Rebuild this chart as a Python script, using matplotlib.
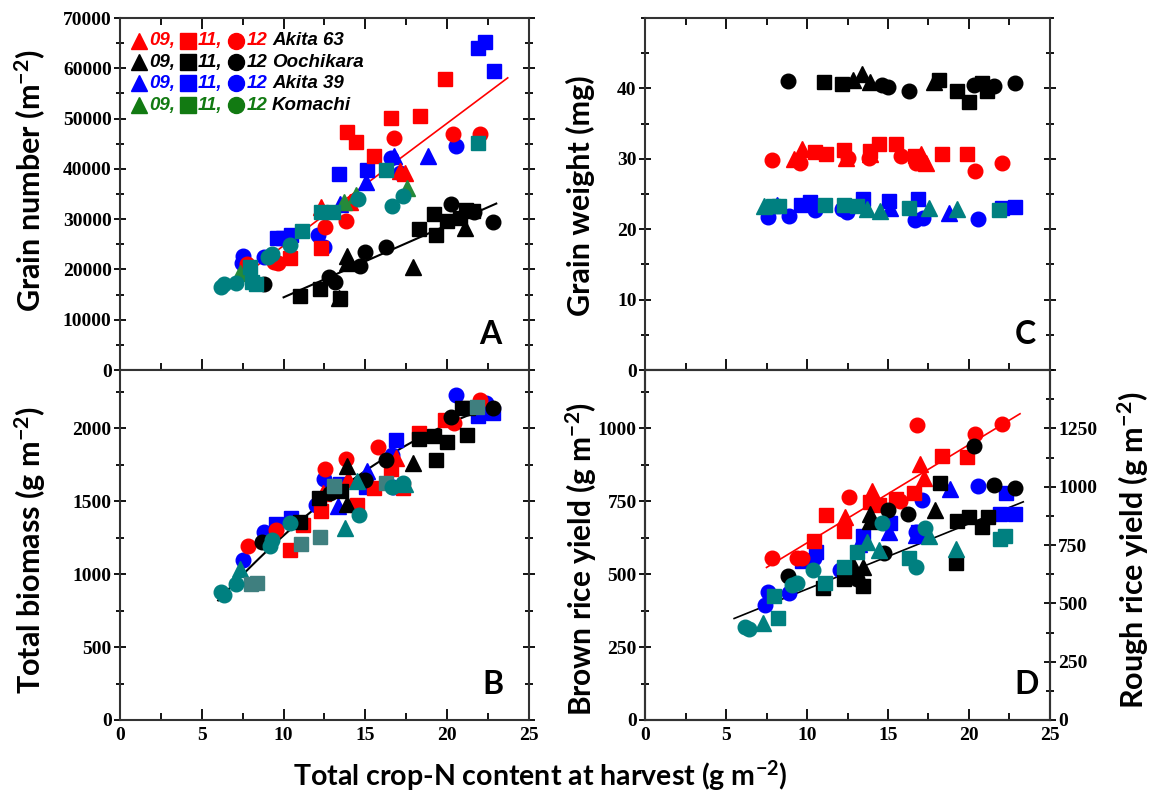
import matplotlib
matplotlib.use('Agg')
import matplotlib.pyplot as plt
from matplotlib.ticker import MultipleLocator, FixedLocator
import numpy as np

# ---------------- Panel A: grain number (m-2) ----------------
A_ak63_09 = [(12.3, 32500), (14.05, 33500), (17.1, 39600), (17.4, 39200)]
A_ak63_11 = [(13.88, 47400), (14.45, 45300), (15.51, 42500), (16.59, 50200), (18.32, 50500),
             (19.85, 57800), (12.28, 24200), (10.4, 22300)]
A_ak63_12 = [(16.75, 46200), (13.84, 29600), (12.56, 28400), (9.67, 21200), (9.4, 21400),
             (7.78, 21100), (20.36, 47000), (22.03, 47000)]
A_ooch_09 = [(13.88, 22700), (13.88, 21200), (17.92, 20500), (21.07, 28200), (13.4, 14300)]
A_ooch_11 = [(10.99, 14800), (12.21, 16200), (13.44, 14300), (18.26, 28000), (19.18, 31000),
             (19.3, 26800), (19.99, 29700), (20.81, 30200), (21.17, 31900), (21.58, 31700)]
A_ooch_12 = [(8.82, 17100), (12.79, 18400), (13.13, 17600), (14.7, 20700), (14.96, 23500),
             (16.23, 24500), (20.26, 33100), (21.62, 31500), (22.8, 29400)]
A_ak39_09 = [(13.44, 33100), (15.02, 37400), (16.73, 42500), (18.83, 42600)]
A_ak39_11 = [(13.38, 39000), (15.07, 39800), (9.61, 26200), (9.98, 26300), (10.48, 26800),
             (21.89, 64000), (22.33, 65300), (22.84, 59500)]
A_ak39_12 = [(7.53, 22700), (7.43, 21200), (8.79, 22400), (12.11, 26800), (12.46, 24500),
             (16.59, 42100), (17.1, 39100), (20.56, 44600)]
A_koma_09 = [(7.33, 19200), (13.68, 33500), (14.41, 34800), (17.55, 36100)]
A_koma_11 = [(7.94, 20400), (8.08, 17600), (8.31, 17200), (11.1, 27600), (12.28, 31500),
             (13.03, 31400), (16.29, 39800), (21.89, 45200)]
A_koma_12 = [(6.17, 16600), (6.37, 17100), (7.08, 17400), (9.06, 22500), (9.32, 23000),
             (10.38, 24900), (14.56, 34100), (16.65, 32700), (17.3, 34700)]
A_fit_red_x, A_fit_red_y = [6.3, 23.7], [15700, 58100]
A_fit_black_x, A_fit_black_y = [10.0, 23.0], [14450, 33100]

# ---------------- Panel B: total biomass (g m-2) ----------------
B_ak63_09 = [(12.38, 1559), (13.95, 1650), (16.9, 1797)]
B_ak63_11 = [(10.42, 1167), (11.16, 1340), (12.28, 1435), (14.5, 1473), (15.51, 1593),
             (16.59, 1718), (17.3, 1593), (18.28, 1967), (19.85, 2058)]
B_ak63_12 = [(7.8, 1190), (9.51, 1303), (12.56, 1718), (13.84, 1791), (15.78, 1872),
             (20.4, 2035), (22.03, 2194)]
B_ooch_09 = [(13.88, 1741), (13.88, 1480), (17.92, 1759)]
B_ooch_11 = [(10.99, 1355), (12.17, 1525), (13.48, 1571), (18.26, 1927), (19.18, 1949),
             (19.99, 1904), (19.34, 1786), (21.21, 1956), (20.91, 2137), (21.27, 2137)]
B_ooch_12 = [(8.71, 1224), (12.83, 1559), (14.96, 1643), (16.29, 1786), (20.26, 2081),
             (22.8, 2142)]
B_ak39_09 = [(13.33, 1469), (15.07, 1707), (16.7, 1820)]
B_ak39_11 = [(9.53, 1344), (10.48, 1385), (13.44, 1616), (15.02, 1600), (16.9, 1922),
             (21.89, 2085), (22.8, 2108)]
B_ak39_12 = [(7.49, 1099), (8.82, 1287), (12.46, 1655), (12.01, 1473), (16.65, 1820),
             (16.69, 1600), (20.56, 2228), (22.39, 2171)]
B_koma_09 = [(7.33, 1038), (13.74, 1315), (14.5, 1639), (17.41, 1616)]
B_koma_11 = [(8.0, 936), (8.35, 941), (11.05, 1208), (12.21, 1253), (13.09, 1605),
             (16.29, 1627), (21.84, 2144)]
B_koma_12 = [(6.17, 879), (6.37, 857), (7.08, 936), (9.16, 1190), (9.32, 1231), (10.38, 1351),
             (14.6, 1405), (16.65, 1600), (17.3, 1627)]
B_fit_coef = (2.5, 151.25, -2.5)   # a + b*N + c*N^2
B_fit_range = (6.0, 22.5)

# ---------------- Panel C: grain weight (mg) ----------------
C_ak63_09 = [(9.67, 31.36), (9.21, 29.92), (12.42, 30.07), (13.89, 30.64), (17.05, 30.64),
             (17.35, 29.45)]
C_ak63_11 = [(10.47, 31.02), (11.18, 30.64), (12.26, 31.21), (13.89, 31.12), (14.46, 32.07),
             (15.52, 32.07), (16.64, 30.4), (18.33, 30.64), (19.86, 30.64)]
C_ak63_12 = [(7.84, 29.78), (9.55, 29.45), (12.5, 30.16), (13.83, 30.16), (15.78, 30.4),
             (16.74, 29.45), (20.37, 28.25), (22.04, 29.35)]
C_ooch_09 = [(12.87, 41.25), (13.38, 42.11), (13.89, 40.92), (17.86, 40.92)]
C_ooch_11 = [(11.04, 40.92), (12.16, 40.58), (18.17, 41.25), (19.29, 39.58), (20.0, 38.05),
             (20.81, 40.77), (21.12, 39.63)]
C_ooch_12 = [(8.84, 41.06), (14.66, 40.54), (15.01, 40.2), (16.29, 39.63), (20.3, 40.44),
             (21.57, 40.3), (22.81, 40.82)]
C_ak39_09 = [(8.15, 23.47), (15.11, 22.99), (18.78, 22.28)]
C_ak39_11 = [(9.61, 23.47), (10.16, 23.85), (13.48, 24.33), (15.07, 24.04), (16.88, 24.33),
             (22.04, 22.99), (22.85, 23.09)]
C_ak39_12 = [(7.58, 21.8), (8.9, 21.94), (10.49, 22.75), (12.16, 22.85), (12.46, 22.51),
             (16.64, 21.32), (17.15, 21.56), (20.57, 21.46)]
C_koma_09 = [(7.33, 23.23), (13.69, 22.9), (14.5, 22.61), (17.56, 22.99), (19.23, 22.85)]
C_koma_11 = [(7.88, 23.23), (8.29, 23.23), (11.1, 23.47), (12.26, 23.47), (13.08, 23.23),
             (16.29, 22.99), (21.83, 22.75)]
C_koma_12 = []

# ---------------- Panel D: brown rice yield (g m-2) ----------------
D_ak63_09 = [(12.36, 696), (13.99, 785), (16.99, 879), (17.25, 831)]
D_ak63_11 = [(10.43, 614), (11.18, 704), (12.26, 648), (13.89, 748), (14.46, 736),
             (15.52, 759), (16.6, 780), (18.33, 904), (19.86, 902)]
D_ak63_12 = [(7.84, 557), (9.37, 556), (9.67, 554), (12.57, 765), (15.72, 751), (16.78, 1010),
             (20.37, 979), (22.04, 1016)]
D_ooch_09 = [(12.87, 531), (13.44, 525), (13.89, 705), (13.89, 683), (17.9, 719)]
D_ooch_11 = [(11.0, 451), (12.26, 485), (13.48, 459), (18.21, 813), (19.19, 539), (19.29, 683),
             (20.0, 696), (20.81, 662), (21.18, 696)]
D_ooch_12 = [(8.8, 494), (15.01, 719), (14.75, 573), (16.23, 705), (20.31, 938), (21.57, 805),
             (22.81, 796), (13.08, 485)]
D_ak39_09 = [(13.24, 605), (15.05, 645), (16.7, 634), (18.82, 793)]
D_ak39_11 = [(9.67, 545), (10.53, 577), (13.48, 630), (15.11, 674), (16.84, 645), (22.28, 779),
             (21.94, 706), (22.85, 706)]
D_ak39_12 = [(7.58, 440), (7.43, 394), (8.86, 437), (10.43, 554), (12.06, 514), (17.11, 753),
             (16.74, 645), (20.57, 803)]
D_koma_09 = [(7.27, 334), (13.69, 611), (14.46, 582), (17.56, 631), (19.19, 588)]
D_koma_11 = [(7.94, 425), (8.23, 350), (11.08, 471), (12.3, 525), (13.08, 577), (16.29, 554),
             (21.89, 619), (22.2, 631)]
D_koma_12 = [(6.15, 320), (6.42, 311), (9.1, 462), (9.37, 470), (10.39, 514), (14.6, 676),
             (16.7, 525), (17.31, 659)]
D_fit_red_x, D_fit_red_y = [7.5, 23.15], [523, 1050]
D_fit_black_x, D_fit_black_y = [5.5, 23.35], [348, 748]

# legend rows: cultivar name and colour
cultivars = ['Akita 63', 'Oochikara', 'Akita 39', 'Komachi']
legend_colors = ['#ff0000', '#000000', '#0000ff', '#127a12']

RED, BLACK, BLUE, TEAL = '#ff0000', '#000000', '#0000ff', '#008080'
MARKERS = {'09': '^', '11': 's', '12': 'o'}
SIZES = {'09': 11, '11': 9.5, '12': 10.5}

# tick labels: bold serif; axis titles: bold sans
SERIF = ['Liberation Serif', 'DejaVu Serif']
plt.rcParams['font.family'] = SERIF
plt.rcParams['font.weight'] = 'bold'
plt.rcParams['font.size'] = 14
plt.rcParams['mathtext.fontset'] = 'custom'
plt.rcParams['mathtext.rm'] = 'Lato:bold'
plt.rcParams['mathtext.bf'] = 'Lato:bold'
plt.rcParams['mathtext.it'] = 'Lato:bold:italic'
plt.rcParams['mathtext.default'] = 'rm'
LABEL_FONT = {'family': 'Lato', 'weight': 'bold', 'size': 22}


def draw_points(ax, series):
    for pts, color, year in series:
        if not pts:
            continue
        xs, ys = zip(*pts)
        ax.plot(xs, ys, linestyle='none', marker=MARKERS[year], ms=SIZES[year],
                color=color, mec=color, zorder=3)


def style_axis(ax, ymax, labelled, minor, xlabels, right=True, top=False):
    ax.set_xlim(0, 25)
    ax.set_ylim(0, ymax)
    ax.xaxis.set_major_locator(MultipleLocator(5))
    ax.xaxis.set_minor_locator(MultipleLocator(2.5))
    ax.yaxis.set_major_locator(FixedLocator(labelled))
    ax.yaxis.set_minor_locator(MultipleLocator(minor))
    ax.tick_params(axis='x', which='both', direction='in', top=top, labelbottom=xlabels, pad=5)
    ax.tick_params(axis='x', which='major', length=8, width=1.3)
    ax.tick_params(axis='x', which='minor', length=5, width=1.3)
    ax.tick_params(axis='y', which='both', direction='inout', right=right, pad=1.5)
    ax.tick_params(axis='y', which='major', length=9, width=1.3)
    ax.tick_params(axis='y', which='minor', length=6, width=1.3)
    ax.tick_params(axis='both', labelfontfamily='Liberation Serif')
    for s in ax.spines.values():
        s.set_linewidth(1.5)
        s.set_color('#333333')


def panel_letter(ax, letter, fx):
    ax.text(fx, 0.1, letter, transform=ax.transAxes, ha='center', va='center',
            family='Lato', weight='bold', size=23)


fig = plt.figure(figsize=(11.57, 7.94), dpi=100)
axA = fig.add_axes([0.1037, 0.534, 0.3535, 0.4433])
axB = fig.add_axes([0.1037, 0.0932, 0.3535, 0.4408])
axC = fig.add_axes([0.5575, 0.534, 0.350, 0.4433])
axD = fig.add_axes([0.5575, 0.0932, 0.350, 0.4408])

# Panel A
axA.plot(A_fit_red_x, A_fit_red_y, color=RED, lw=1.2, zorder=2)
axA.plot(A_fit_black_x, A_fit_black_y, color=BLACK, lw=1.5, zorder=2)
draw_points(axA, [(A_ak39_09, BLUE, '09'), (A_ak39_11, BLUE, '11'), (A_ak39_12, BLUE, '12'),
                  (A_ak63_09, RED, '09'), (A_ak63_11, RED, '11'), (A_ak63_12, RED, '12'),
                  (A_ooch_09, BLACK, '09'), (A_ooch_11, BLACK, '11'), (A_ooch_12, BLACK, '12'),
                  (A_koma_09, '#258a3a', '09'), (A_koma_11, TEAL, '11'), (A_koma_12, TEAL, '12')])
style_axis(axA, 70000, list(range(0, 70001, 10000)), 5000, False, top=True)
panel_letter(axA, 'A', 0.905)

# legend drawn as text rows inside panel A
row_y = [0.935, 0.875, 0.815, 0.752]
for name, col, yy in zip(cultivars, legend_colors, row_y):
    for mx, tx, year in [(0.046, 0.071, '09,'), (0.166, 0.191, '11,'), (0.284, 0.31, '12')]:
        axA.plot(mx, yy, marker=MARKERS[year[:2]], ms=11.5, color=col, transform=axA.transAxes,
                 clip_on=False, zorder=4)
        axA.text(tx, yy, year, transform=axA.transAxes, color=col, ha='left', va='center',
                 family='Liberation Sans', weight='bold', style='italic', size=13.5)
    axA.text(0.372, yy, name, transform=axA.transAxes, color='black', ha='left', va='center',
             family='Liberation Sans', weight='bold', style='italic', size=13.5)

# Panel B
bx = np.linspace(B_fit_range[0], B_fit_range[1], 60)
axB.plot(bx, B_fit_coef[0] + B_fit_coef[1] * bx + B_fit_coef[2] * bx ** 2,
         color=BLACK, lw=1.5, zorder=2)
draw_points(axB, [(B_ak39_09, BLUE, '09'), (B_ak39_11, BLUE, '11'), (B_ak39_12, BLUE, '12'),
                  (B_ak63_09, RED, '09'), (B_ak63_11, RED, '11'), (B_ak63_12, RED, '12'),
                  (B_ooch_09, BLACK, '09'), (B_ooch_11, BLACK, '11'), (B_ooch_12, BLACK, '12'),
                  (B_koma_09, TEAL, '09'), (B_koma_11, '#3f7f7f', '11'), (B_koma_12, TEAL, '12')])
style_axis(axB, 2400, [0, 500, 1000, 1500, 2000], 250, True)
panel_letter(axB, 'B', 0.912)

# Panel C
draw_points(axC, [(C_ak39_09, BLUE, '09'), (C_ak39_11, BLUE, '11'), (C_ak39_12, BLUE, '12'),
                  (C_ak63_09, RED, '09'), (C_ak63_11, RED, '11'), (C_ak63_12, RED, '12'),
                  (C_ooch_09, BLACK, '09'), (C_ooch_11, BLACK, '11'), (C_ooch_12, BLACK, '12'),
                  (C_koma_09, TEAL, '09'), (C_koma_11, TEAL, '11'), (C_koma_12, TEAL, '12')])
style_axis(axC, 50, [0, 10, 20, 30, 40], 5, False, top=True)
panel_letter(axC, 'C', 0.938)

# Panel D with rough rice on the right axis
axD.plot(D_fit_red_x, D_fit_red_y, color=RED, lw=1.2, zorder=2)
axD.plot(D_fit_black_x, D_fit_black_y, color=BLACK, lw=1.2, zorder=2)
draw_points(axD, [(D_ak39_09, BLUE, '09'), (D_ak39_11, BLUE, '11'), (D_ak39_12, BLUE, '12'),
                  (D_ak63_09, RED, '09'), (D_ak63_11, RED, '11'), (D_ak63_12, RED, '12'),
                  (D_ooch_09, BLACK, '09'), (D_ooch_11, BLACK, '11'), (D_ooch_12, BLACK, '12'),
                  (D_koma_09, TEAL, '09'), (D_koma_11, TEAL, '11'), (D_koma_12, TEAL, '12')])
style_axis(axD, 1200, [0, 250, 500, 750, 1000], 125, True, right=False)
panel_letter(axD, 'D', 0.943)
axD2 = axD.twinx()
axD2.set_ylim(0, 1500)
axD2.yaxis.set_major_locator(FixedLocator([0, 250, 500, 750, 1000, 1250]))
axD2.yaxis.set_minor_locator(MultipleLocator(125))
axD2.tick_params(axis='y', which='both', direction='inout', pad=1.5,
                 labelfontfamily='Liberation Serif')
axD2.tick_params(axis='y', which='major', length=9, width=1.3)
axD2.tick_params(axis='y', which='minor', length=6, width=1.3)
for s in axD2.spines.values():
    s.set_linewidth(1.5)
    s.set_color('#333333')

# axis titles
fig.text(0.026, 0.773, 'Grain number (m$^{-2}$)', rotation=90,
         ha='center', va='center', **LABEL_FONT)
fig.text(0.026, 0.307, 'Total biomass (g m$^{-2}$)', rotation=90,
         ha='center', va='center', **LABEL_FONT)
fig.text(0.502, 0.754, 'Grain weight (mg)', rotation=90, ha='center', va='center', **LABEL_FONT)
fig.text(0.502, 0.296, 'Brown rice yield (g m$^{-2}$)', rotation=90,
         ha='center', va='center', family='Lato', weight='bold', size=21.5)
fig.text(0.979, 0.307, 'Rough rice yield (g m$^{-2}$)', rotation=90,
         ha='center', va='center', **LABEL_FONT)
fig.text(0.467, 0.0227, 'Total crop-N content at harvest (g m$^{-2}$)',
         ha='center', va='center', family='Lato', weight='bold', size=20.5)

fig.savefig('out.png', dpi=100)
